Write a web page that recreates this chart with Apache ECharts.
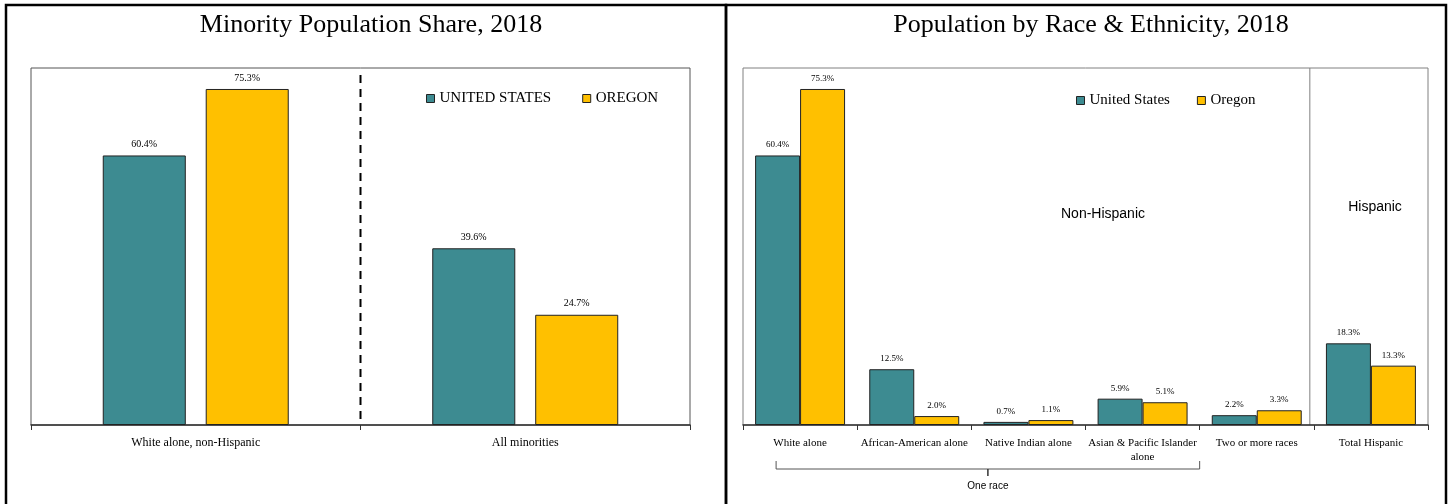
<!DOCTYPE html>
<html>
<head>
<meta charset="utf-8">
<script src="https://cdn.jsdelivr.net/npm/echarts@6/dist/echarts.min.js"></script>
<style>
  html, body { margin: 0; padding: 0; background: #fff; }
  #chart { width: 1449px; height: 504px; }
</style>
</head>
<body>
<div id="chart"></div>
<script>
// Left panel: minority share
const shareCategories = ['White alone, non-Hispanic', 'All minorities'];
const shareUS = [60.4, 39.6];
const shareOR = [75.3, 24.7];

// Right panel: population by race & ethnicity
const raceCategories = ['White alone', 'African-American alone', 'Native Indian alone',
  'Asian & Pacific Islander alone', 'Two or more races', 'Total Hispanic'];
const raceUS = [60.4, 12.5, 0.7, 5.9, 2.2, 18.3];
const raceOR = [75.3, 2.0, 1.1, 5.1, 3.3, 13.3];

const TEAL = '#3d8b91';
const GOLD = '#ffc000';
const SERIF = '"Liberation Serif", "Times New Roman", serif';
const SANS = '"Liberation Sans", Arial, sans-serif';

const chart = echarts.init(document.getElementById('chart'), null, { renderer: 'canvas' });

function barSeries(name, data, color, axisIdx, labelSize, width, gap) {
  return {
    name: name,
    type: 'bar',
    xAxisIndex: axisIdx,
    yAxisIndex: axisIdx,
    data: data,
    barWidth: width,
    barGap: gap,
    itemStyle: { color: color, borderColor: '#222', borderWidth: 1 },
    label: {
      show: true,
      position: 'top',
      distance: 6,
      formatter: p => p.value.toFixed(1) + '%',
      fontFamily: SERIF,
      fontSize: labelSize,
      color: '#000'
    },
    animation: false
  };
}

function xAxis(gridIndex, cats, fontSize, formatter) {
  return {
    type: 'category',
    gridIndex: gridIndex,
    data: cats,
    axisLine: { lineStyle: { color: '#333', width: 1.5 } },
    axisTick: { show: true, length: 5, lineStyle: { color: '#333' } },
    axisLabel: {
      interval: 0,
      fontFamily: SERIF, fontSize: fontSize, color: '#000', margin: 11, lineHeight: 14,
      formatter: formatter
    }
  };
}

function yAxis(gridIndex) {
  return {
    type: 'value', gridIndex: gridIndex, min: 0, max: 80,
    show: false, splitLine: { show: false }
  };
}

const legendText = { fontFamily: SERIF, fontSize: 15, color: '#000' };

chart.setOption({
  animation: false,
  title: [
    { text: 'Minority Population Share, 2018', left: 366, top: 7, textAlign: 'center',
      textStyle: { fontFamily: SERIF, fontSize: 26, fontWeight: 'normal', color: '#000' } },
    { text: 'Population by Race & Ethnicity, 2018', left: 1086, top: 7, textAlign: 'center',
      textStyle: { fontFamily: SERIF, fontSize: 26, fontWeight: 'normal', color: '#000' } }
  ],
  legend: [
    { data: [{ name: 'UNITED STATES' }, { name: 'OREGON' }], left: 426, top: 91, padding: 0,
      itemWidth: 8, itemHeight: 8, itemGap: 31, icon: 'rect',
      itemStyle: { borderColor: '#222', borderWidth: 1 }, textStyle: legendText },
    { data: [{ name: 'United States' }, { name: 'Oregon' }], left: 1076, top: 93, padding: 0,
      itemWidth: 8, itemHeight: 8, itemGap: 27, icon: 'rect',
      itemStyle: { borderColor: '#222', borderWidth: 1 }, textStyle: legendText }
  ],
  grid: [
    { left: 31, top: 68, width: 659, height: 357, show: true, borderColor: '#555', borderWidth: 1, containLabel: false },
    { left: 743, top: 68, width: 685, height: 357, show: true, borderColor: '#808080', borderWidth: 1, containLabel: false }
  ],
  xAxis: [
    xAxis(0, shareCategories, 12),
    xAxis(1, raceCategories, 11, v => v.replace(' Islander ', ' Islander\n'))
  ],
  yAxis: [yAxis(0), yAxis(1)],
  series: [
    barSeries('UNITED STATES', shareUS, TEAL, 0, 10, '25.2%', '24%'),
    barSeries('OREGON', shareOR, GOLD, 0, 10, '25.2%', '24%'),
    barSeries('United States', raceUS, TEAL, 1, 9, '39.4%', '0%'),
    barSeries('Oregon', raceOR, GOLD, 1, 9, '39.4%', '0%')
  ]
});

// Decorations placed from the axes' own pixel mapping
const px = (axis, idx) => chart.convertToPixel({ xAxisIndex: axis }, idx);
const py = (axis, v) => chart.convertToPixel({ yAxisIndex: axis }, v);

const leftDivider = (px(0, 0) + px(0, 1)) / 2;
const rightStep = px(1, 1) - px(1, 0);
const hispDivider = (px(1, 4) + px(1, 5)) / 2 - 4;
const yBase = py(0, 0);
const yTop = py(0, 80);

const braceLeft = px(1, 0) - rightStep * 0.21;
const braceRight = (px(1, 3) + px(1, 4)) / 2;
const braceMid = (braceLeft + braceRight) / 2;
const braceY = 469;

chart.setOption({
  graphic: [
    // panel frames
    { type: 'rect', shape: { x: 6, y: 5, width: 720, height: 520 }, silent: true,
      style: { fill: null, stroke: '#000', lineWidth: 2.5 } },
    { type: 'rect', shape: { x: 726, y: 5, width: 720, height: 520 }, silent: true,
      style: { fill: null, stroke: '#000', lineWidth: 2.5 } },
    // dashed separator between the two groups
    { type: 'line', shape: { x1: leftDivider, y1: yTop + 7, x2: leftDivider, y2: yBase }, silent: true,
      style: { stroke: '#000', lineWidth: 2, lineDash: [8, 6] } },
    // Non-Hispanic / Hispanic separator
    { type: 'line', shape: { x1: hispDivider, y1: yTop, x2: hispDivider, y2: yBase }, silent: true,
      style: { stroke: '#808080', lineWidth: 1 } },
    { type: 'text', x: 1103, y: 214, silent: true,
      style: { text: 'Non-Hispanic', font: '14px ' + SANS, fill: '#000', align: 'center', verticalAlign: 'middle' } },
    { type: 'text', x: 1375, y: 207, silent: true,
      style: { text: 'Hispanic', font: '14px ' + SANS, fill: '#000', align: 'center', verticalAlign: 'middle' } },
    // "One race" brace
    { type: 'polyline', silent: true,
      shape: { points: [[braceLeft, braceY - 8], [braceLeft, braceY], [braceRight, braceY], [braceRight, braceY - 8]] },
      style: { stroke: '#555', lineWidth: 1, fill: null } },
    { type: 'line', shape: { x1: braceMid, y1: braceY, x2: braceMid, y2: braceY + 7 }, silent: true,
      style: { stroke: '#333', lineWidth: 1.5 } },
    { type: 'text', x: braceMid, y: 486, silent: true,
      style: { text: 'One race', font: '10px ' + SANS, fill: '#000', align: 'center', verticalAlign: 'middle' } }
  ]
});
</script>
</body>
</html>
